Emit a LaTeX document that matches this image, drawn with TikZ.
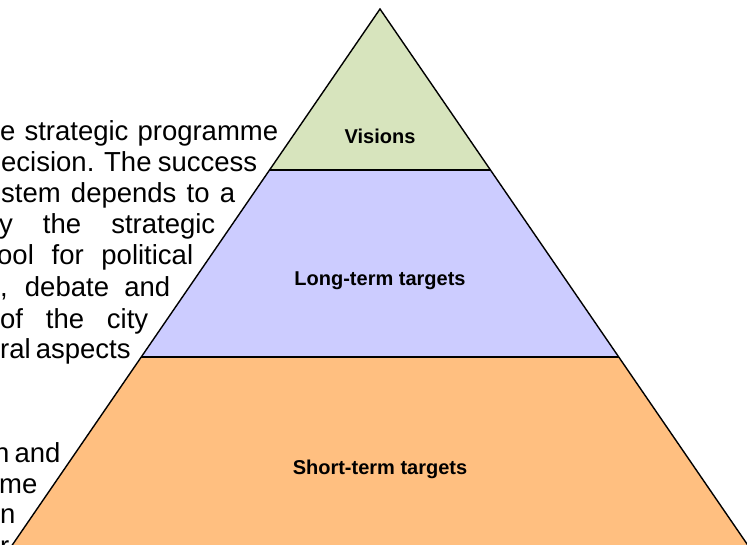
\documentclass[tikz,border=0pt]{standalone}
\usepackage{fontspec}
\setmainfont{Liberation Sans}
\definecolor{visiongreen}{RGB}{215,228,189}
\definecolor{longblue}{RGB}{204,204,255}
\definecolor{shortorange}{RGB}{255,191,128}
\tikzset{
  level/.style={font=\fontsize{20}{24}\selectfont\bfseries},
  textline/.style={anchor=base west, inner sep=0pt, font=\fontsize{27.5}{31}\selectfont}
}
\newcommand{\jline}[2]{\makebox[#1][s]{#2}}
\begin{document}
\begin{tikzpicture}[x=1pt,y=-1pt]
    \useasboundingbox (0,0) rectangle (747,545);
    \clip (0,0) rectangle (747,545);
    % pyramid corners, sides run at 0.686 px per px
    \coordinate (top) at (380,9);
    \coordinate (vl) at (269.6,170);
    \coordinate (vr) at (490.4,170);
    \coordinate (ll) at (141.3,357);
    \coordinate (lr) at (618.7,357);
    \coordinate (bl) at (2,560);
    \coordinate (br) at (758,560);
    \fill[visiongreen] (top) -- (vl) -- (vr) -- cycle;
    \fill[longblue] (vl) -- (ll) -- (lr) -- (vr) -- cycle;
    \fill[shortorange] (ll) -- (bl) -- (br) -- (lr) -- cycle;
    \draw[line width=1.4pt] (vl) -- (vr);
    \draw[line width=1.4pt] (ll) -- (lr);
    \draw[line width=1.4pt, line join=miter] (bl) -- (top) -- (br);
    \node[level] (visions) at (380,136) {Visions};
    \node[level] (long) at (380,281) {Long-term targets};
    \node[level] (short) at (380,469) {Short-term targets};
    % running text beside the pyramid
    \node[textline] (t1) at (0,141) {\jline{278pt}{e strategic programme}};
    \node[textline] (t2) at (1,172) {\jline{256pt}{ecision. The success}};
    \node[textline] (t3) at (1,203) {\jline{234pt}{stem depends to a}};
    \node[textline] (t4) at (-1,234) {\jline{216pt}{y the strategic}};
    \node[textline] (t5) at (-3,265) {\jline{196pt}{ool for political}};
    \node[textline] (t6) at (0,297) {\jline{170pt}{, debate and}};
    \node[textline] (t7) at (0,328) {\jline{148pt}{of the city}};
    \node[textline] (t8) at (0,359) {\jline{127pt}{ral aspects}};
    \node[textline] (t9) at (-6,462) {\jline{63pt}{n and}};
    \node[textline] (t10) at (-1,493) {me};
    \node[textline] (t11) at (0,523) {n};
    \node[textline] (t12) at (0,555) {r};
\end{tikzpicture}
\end{document}
